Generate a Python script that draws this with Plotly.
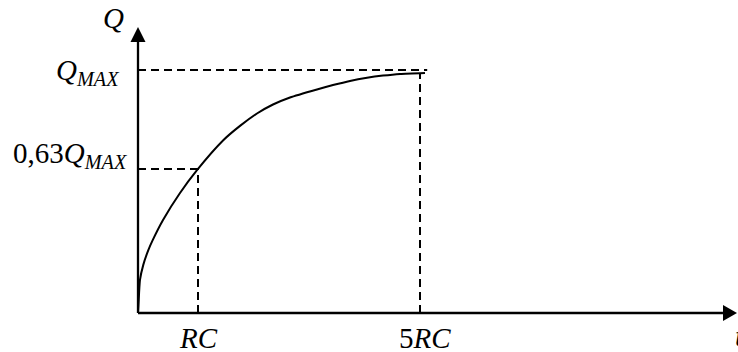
import plotly.graph_objects as go

# ---- data (t: RC tick = 1 ; Q: Q_MAX = 1) ----
t_vals = [0.0, 0.008, 0.033, 0.088, 0.172, 0.245, 0.417, 0.70, 0.983, 1.417,
          1.70, 1.983, 2.25, 2.533, 2.983, 3.25, 3.533, 3.817, 4.083, 4.367, 4.783]
q_vals = [0.0, 0.033, 0.136, 0.198, 0.259, 0.300, 0.383, 0.494, 0.588, 0.710,
          0.770, 0.821, 0.858, 0.887, 0.920, 0.938, 0.955, 0.968, 0.977, 0.984, 0.988]

x_tick_vals = [1.0, 4.7]
x_tick_text = ["<i>RC</i>", "5<i>RC</i>"]
y_tick_vals = [0.593, 1.0]
y_tick_text = ["0,63<i>Q</i><sub><i>MAX</i></sub>", "<i>Q</i><sub><i>MAX</i></sub>"]
qmax_line_end = 4.82
x_axis_label = "<i>t</i>"
y_axis_label = "<i>Q</i>"

# ---- layout geometry ----
W, H = 738, 352
XR = [-2.3, 10.0]
YR = [-0.1605, 1.288]
px_x = (XR[1] - XR[0]) / W   # data per pixel, x
px_y = (YR[1] - YR[0]) / H   # data per pixel, y

FONT = "Liberation Serif"
BLACK = "#000000"

fig = go.Figure()

# charging curve
fig.add_trace(go.Scatter(x=t_vals, y=q_vals, mode="lines",
                         line=dict(color=BLACK, width=2, shape="spline", smoothing=0.6),
                         hoverinfo="skip", showlegend=False, cliponaxis=False))

shapes = []
dash = "8px,5px"
# dashed guide lines
shapes.append(dict(type="line", xref="x", yref="y", x0=0, x1=qmax_line_end,
                   y0=y_tick_vals[1], y1=y_tick_vals[1],
                   line=dict(color=BLACK, width=2, dash=dash)))
shapes.append(dict(type="line", xref="x", yref="y", x0=x_tick_vals[1], x1=x_tick_vals[1],
                   y0=0, y1=q_vals[-1], line=dict(color=BLACK, width=2, dash=dash)))
shapes.append(dict(type="line", xref="x", yref="y", x0=0, x1=x_tick_vals[0],
                   y0=y_tick_vals[0], y1=y_tick_vals[0],
                   line=dict(color=BLACK, width=2, dash=dash)))
shapes.append(dict(type="line", xref="x", yref="y", x0=x_tick_vals[0], x1=x_tick_vals[0],
                   y0=0, y1=y_tick_vals[0], line=dict(color=BLACK, width=2, dash=dash)))

# axes with arrow heads
x_tip = 9.983
y_tip = 1.177
x_head = 14 * px_x
x_half = 8 * px_y
y_head = 15 * px_y
y_half = 7.5 * px_x
shapes.append(dict(type="line", xref="x", yref="y", x0=0, x1=x_tip - x_head, y0=0, y1=0,
                   line=dict(color=BLACK, width=2.3)))
shapes.append(dict(type="line", xref="x", yref="y", x0=0, x1=0, y0=0, y1=y_tip - y_head,
                   line=dict(color=BLACK, width=2.3)))
shapes.append(dict(type="path", xref="x", yref="y",
                   path=f"M {x_tip - x_head} {-x_half} L {x_tip} 0 L {x_tip - x_head} {x_half} Z",
                   fillcolor=BLACK, line=dict(color=BLACK, width=0)))
shapes.append(dict(type="path", xref="x", yref="y",
                   path=f"M {-y_half} {y_tip - y_head} L 0 {y_tip} L {y_half} {y_tip - y_head} Z",
                   fillcolor=BLACK, line=dict(color=BLACK, width=0)))

ann = []
fs = 29
def A(text, x, y, xa, ya):
    ann.append(dict(text=text, x=x, y=y, xref="x", yref="y", xanchor=xa, yanchor=ya,
                    showarrow=False, font=dict(family=FONT, size=fs, color=BLACK)))

A(y_axis_label, -25 * px_x, 1.214, "center", "middle")
A(y_tick_text[1], -16 * px_x, y_tick_vals[1] - 2 * px_y, "right", "middle")
A(y_tick_text[0], -8 * px_x, y_tick_vals[0] + 14 * px_y, "right", "middle")
A(x_tick_text[0], x_tick_vals[0], -25 * px_y, "center", "middle")
A(x_tick_text[1], x_tick_vals[1] + 5 * px_x, -25 * px_y, "center", "middle")
A(x_axis_label, x_tip - 4 * px_x, -23 * px_y, "left", "middle")

fig.update_layout(
    width=W, height=H, margin=dict(l=0, r=0, t=0, b=0, pad=0, autoexpand=False),
    paper_bgcolor="white", plot_bgcolor="white",
    xaxis=dict(range=XR, visible=False, fixedrange=True),
    yaxis=dict(range=YR, visible=False, fixedrange=True),
    shapes=shapes, annotations=ann, showlegend=False,
)

fig.write_html("out.html", config={"displayModeBar": False, "staticPlot": True},
               post_script="document.body.style.margin='0';document.body.style.overflow='hidden';")
